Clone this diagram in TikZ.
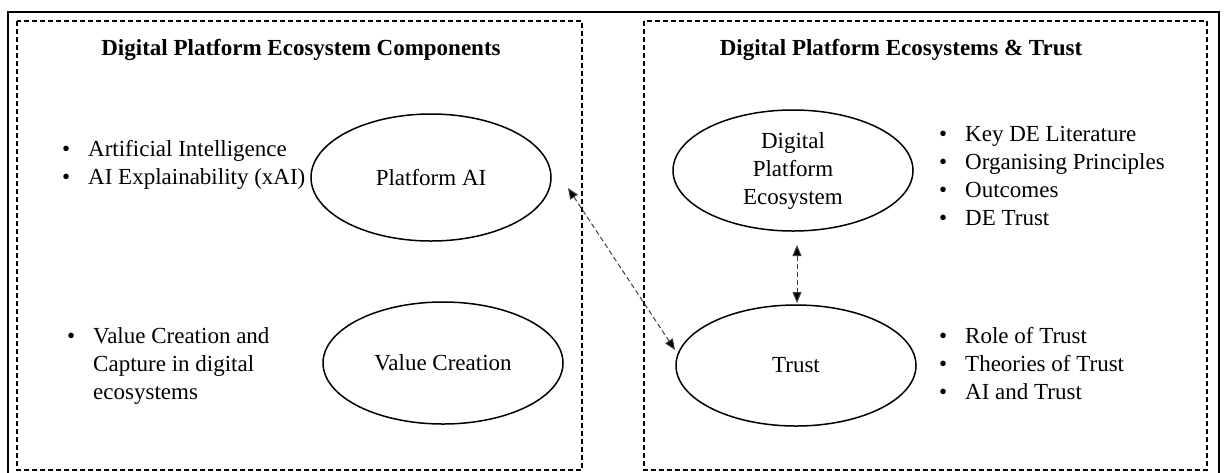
\documentclass[tikz,border=0pt]{standalone}
\usepackage{fontspec}
\setmainfont{Liberation Serif}
\usetikzlibrary{arrows.meta,shapes.geometric}

\newcommand\bul{\makebox[26pt][l]{\textbullet}}

\tikzset{
  frame/.style={draw=black, line width=2pt},
  panel/.style={draw=black, line width=1.6pt, dash pattern=on 5pt off 3pt},
  ell/.style={ellipse, draw=black, line width=1.5pt, inner sep=0pt,
              minimum width=240pt, minimum height=122pt, align=center,
              font=\fontsize{23}{28}\selectfont},
  heading/.style={anchor=base, inner sep=0pt, font=\fontsize{23}{28}\selectfont\bfseries},
  item/.style={anchor=base west, inner sep=0pt, font=\fontsize{23}{28}\selectfont},
  link/.style={draw=black!75, line width=1pt, dash pattern=on 5pt off 3pt,
               {Triangle[length=11pt,width=9pt,fill=black]}-{Triangle[length=11pt,width=9pt,fill=black]}}
}

\begin{document}
\begin{tikzpicture}[x=1pt,y=-1pt]
\useasboundingbox (0,0) rectangle (1225,472);
\clip (0,0) rectangle (1225,472);

% outer frame (runs past the lower edge)
\draw[frame] (8,11.5) rectangle (1218.5,495);

% two dashed panels
\draw[panel] (17,21) rectangle (582,470);
\draw[panel] (644,21) rectangle (1207,470);

% headings
\node[heading] (hl) at (301,55) {Digital Platform Ecosystem Components};
\node[heading] (hr) at (901,55) {Digital Platform Ecosystems \& Trust};

% left panel
\node[ell, minimum height=127pt] (pai) at (431,177.5) {Platform AI};
\node[ell] (val) at (443,363) {Value Creation};

\node[item] (l1) at (62,156) {\bul Artificial Intelligence};
\node[item] (l2) at (62,184) {\bul AI Explainability (xAI)};

\node[item] (v1) at (67,343) {\bul Value Creation and};
\node[item] (v2) at (93,371) {Capture in digital};
\node[item] (v3) at (93,399) {ecosystems};

% right panel
\node[ell, minimum height=121pt] (dpe) at (793,170.5) {Digital\\Platform\\Ecosystem};
\node[ell, minimum height=121pt] (tru) at (796,365.5) {Trust};

\node[item] (r1) at (939,141) {\bul Key DE Literature};
\node[item] (r2) at (939,169) {\bul Organising Principles};
\node[item] (r3) at (939,197) {\bul Outcomes};
\node[item] (r4) at (939,225) {\bul DE Trust};

\node[item] (t1) at (939,343) {\bul Role of Trust};
\node[item] (t2) at (939,371) {\bul Theories of Trust};
\node[item] (t3) at (939,399) {\bul AI and Trust};

% connector end points
\coordinate (paiEnd) at (568,188);
\coordinate (truEndA) at (675,350);
\coordinate (dpeEnd) at (797,245);
\coordinate (truEndB) at (797,303);

\draw[link] (paiEnd) -- (truEndA);
\draw[link] (dpeEnd) -- (truEndB);
\end{tikzpicture}
\end{document}
